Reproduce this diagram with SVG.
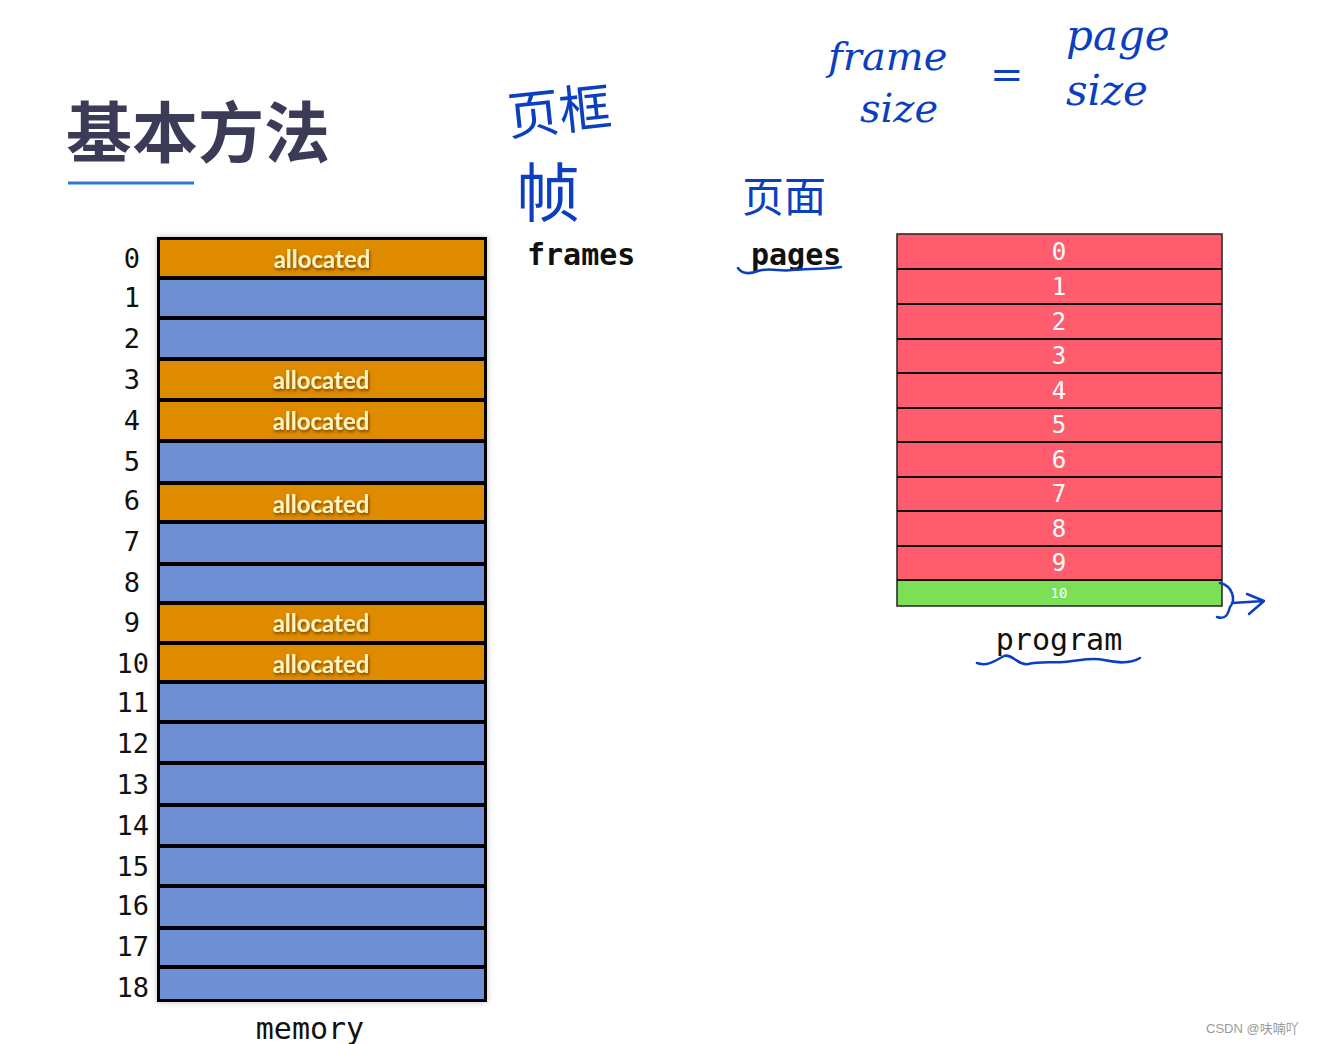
<svg xmlns="http://www.w3.org/2000/svg" width="1321" height="1044" viewBox="0 0 1321 1044">
<defs>
<style>
.lbl{font-family:"DejaVu Sans Mono","Liberation Mono",monospace;font-size:27px;fill:#111;text-anchor:end}
.free{fill:#6f8fd5}
.alloc{fill:#df8b00}
.at{font-family:"Lato","Noto Sans",sans-serif;font-size:24px;font-weight:bold;fill:#fff3c0;text-anchor:middle;filter:url(#ts)}
.pg{fill:#ff5c6e}
.pn{font-family:"DejaVu Sans Mono","Liberation Mono",monospace;font-size:24px;fill:#fff;text-anchor:middle}
.pn10{font-family:"DejaVu Sans Mono","Liberation Mono",monospace;font-size:14px;fill:#fff;text-anchor:middle}
.sep{stroke:#111;stroke-width:2}
.hw{fill:#0c3fbf;font-family:"Noto Sans CJK SC",sans-serif}
.hwe{fill:#0c3fbf;font-family:"DejaVu Serif","Liberation Serif",serif;font-style:italic}
.ink{fill:none;stroke:#0c3fbf;stroke-width:2.5;stroke-linecap:round;stroke-linejoin:round}
.cap{font-family:"DejaVu Sans Mono","Liberation Mono",monospace;font-size:30px;fill:#111}
.capb{font-family:"DejaVu Sans Mono","Liberation Mono",monospace;font-size:30px;font-weight:bold;fill:#111}
</style>
<filter id="ts" x="-20%" y="-40%" width="140%" height="180%">
<feDropShadow dx="1" dy="2" stdDeviation="1.5" flood-color="#5a3000" flood-opacity="0.8"/>
</filter>
<filter id="bs" x="-5%" y="-5%" width="110%" height="110%">
<feDropShadow dx="0" dy="0" stdDeviation="3" flood-color="#000" flood-opacity="0.25"/>
</filter>
</defs>
<rect width="1321" height="1044" fill="#fff"/>

<g id="title">
<text x="66" y="157" font-family="Noto Sans CJK SC,sans-serif" font-size="66" font-weight="bold" fill="#3b3a57">基本方法</text>
<line x1="68" y1="183" x2="194" y2="183" stroke="#2a7ad6" stroke-width="3"/>
</g>

<g id="memory">
<rect x="157" y="237" width="330" height="765" fill="#000" filter="url(#bs)"/>
<rect class="alloc" x="160" y="240" width="324" height="36"/>
<rect class="free" x="160" y="280" width="324" height="36"/>
<rect class="free" x="160" y="320" width="324" height="37"/>
<rect class="alloc" x="160" y="361" width="324" height="37"/>
<rect class="alloc" x="160" y="402" width="324" height="37"/>
<rect class="free" x="160" y="443" width="324" height="38"/>
<rect class="alloc" x="160" y="485" width="324" height="35"/>
<rect class="free" x="160" y="524" width="324" height="38"/>
<rect class="free" x="160" y="566" width="324" height="35"/>
<rect class="alloc" x="160" y="605" width="324" height="36"/>
<rect class="alloc" x="160" y="645" width="324" height="35"/>
<rect class="free" x="160" y="684" width="324" height="36"/>
<rect class="free" x="160" y="724" width="324" height="37"/>
<rect class="free" x="160" y="765" width="324" height="38"/>
<rect class="free" x="160" y="807" width="324" height="37"/>
<rect class="free" x="160" y="848" width="324" height="36"/>
<rect class="free" x="160" y="888" width="324" height="38"/>
<rect class="free" x="160" y="930" width="324" height="35"/>
<rect class="free" x="160" y="969" width="324" height="30"/>
<text class="at" x="322" y="268">allocated</text>
<text class="at" x="321" y="389">allocated</text>
<text class="at" x="321" y="430">allocated</text>
<text class="at" x="321" y="513">allocated</text>
<text class="at" x="321" y="632">allocated</text>
<text class="at" x="321" y="673">allocated</text>
<text class="lbl" x="140" y="268">0</text>
<text class="lbl" x="140" y="307">1</text>
<text class="lbl" x="140" y="348">2</text>
<text class="lbl" x="140" y="389">3</text>
<text class="lbl" x="140" y="430">4</text>
<text class="lbl" x="140" y="471">5</text>
<text class="lbl" x="140" y="510">6</text>
<text class="lbl" x="140" y="551">7</text>
<text class="lbl" x="140" y="592">8</text>
<text class="lbl" x="140" y="632">9</text>
<text class="lbl" x="149" y="673">10</text>
<text class="lbl" x="149" y="712">11</text>
<text class="lbl" x="149" y="753">12</text>
<text class="lbl" x="149" y="794">13</text>
<text class="lbl" x="149" y="835">14</text>
<text class="lbl" x="149" y="876">15</text>
<text class="lbl" x="149" y="915">16</text>
<text class="lbl" x="149" y="956">17</text>
<text class="lbl" x="149" y="997">18</text>
<text class="cap" x="310" y="1039" text-anchor="middle">memory</text>
</g>

<g id="program">
<rect class="pg" x="897" y="234" width="325" height="346"/>
<rect x="897" y="580" width="325" height="26" fill="#7be055"/>
<rect x="897" y="234" width="325" height="372" fill="none" stroke="#222" stroke-width="1.5"/>
<line class="sep" x1="897" y1="269" x2="1222" y2="269"/>
<line class="sep" x1="897" y1="304" x2="1222" y2="304"/>
<line class="sep" x1="897" y1="339" x2="1222" y2="339"/>
<line class="sep" x1="897" y1="373" x2="1222" y2="373"/>
<line class="sep" x1="897" y1="408" x2="1222" y2="408"/>
<line class="sep" x1="897" y1="442" x2="1222" y2="442"/>
<line class="sep" x1="897" y1="477" x2="1222" y2="477"/>
<line class="sep" x1="897" y1="511" x2="1222" y2="511"/>
<line class="sep" x1="897" y1="546" x2="1222" y2="546"/>
<line class="sep" x1="897" y1="580" x2="1222" y2="580"/>
<text class="pn" x="1059" y="260">0</text>
<text class="pn" x="1059" y="295">1</text>
<text class="pn" x="1059" y="330">2</text>
<text class="pn" x="1059" y="364">3</text>
<text class="pn" x="1059" y="399">4</text>
<text class="pn" x="1059" y="433">5</text>
<text class="pn" x="1059" y="468">6</text>
<text class="pn" x="1059" y="502">7</text>
<text class="pn" x="1059" y="537">8</text>
<text class="pn" x="1059" y="571">9</text>
<text class="pn10" x="1059" y="598">10</text>
<text class="cap" x="1059" y="650" text-anchor="middle">program</text>
</g>

<g id="labels">
<text class="capb" x="527" y="265">frames</text>
<text class="capb" x="751" y="265">pages</text>
</g>

<g id="handwriting">
<text class="hw" x="506" y="130" font-size="52" transform="rotate(-6 560 100)">页框</text>
<text class="hw" x="516" y="216" font-size="64">帧</text>
<text class="hw" x="742" y="212" font-size="42">页面</text>
<text class="hwe" x="828" y="70" font-size="40">frame</text>
<text class="hwe" x="860" y="122" font-size="40">size</text>
<text class="hwe" x="990" y="88" font-size="40">=</text>
<text class="hwe" x="1066" y="50" font-size="42">page</text>
<text class="hwe" x="1066" y="105" font-size="42">size</text>
</g>

<g id="connectors">
<path class="ink" d="M738,268 C742,274 750,274 758,271 C770,267 780,272 792,270 C806,268 820,270 841,267"/>
<path class="ink" d="M977,663 C988,667 996,660 1004,656 C1012,653 1018,666 1028,664 C1040,661 1052,663 1064,662 C1080,661 1090,657 1104,660 C1118,663 1130,664 1140,658"/>
<path class="ink" d="M1220,583 C1233,586 1236,600 1230,607 C1228,614 1226,620 1217,617"/>
<path class="ink" d="M1232,603 L1264,601 M1247,594 L1264,601 L1249,614"/>
</g>

<text x="1206" y="1033" font-family="Liberation Sans,Noto Sans CJK SC,sans-serif" font-size="13" fill="#9a9a9a">CSDN @呋喃吖</text>
</svg>
